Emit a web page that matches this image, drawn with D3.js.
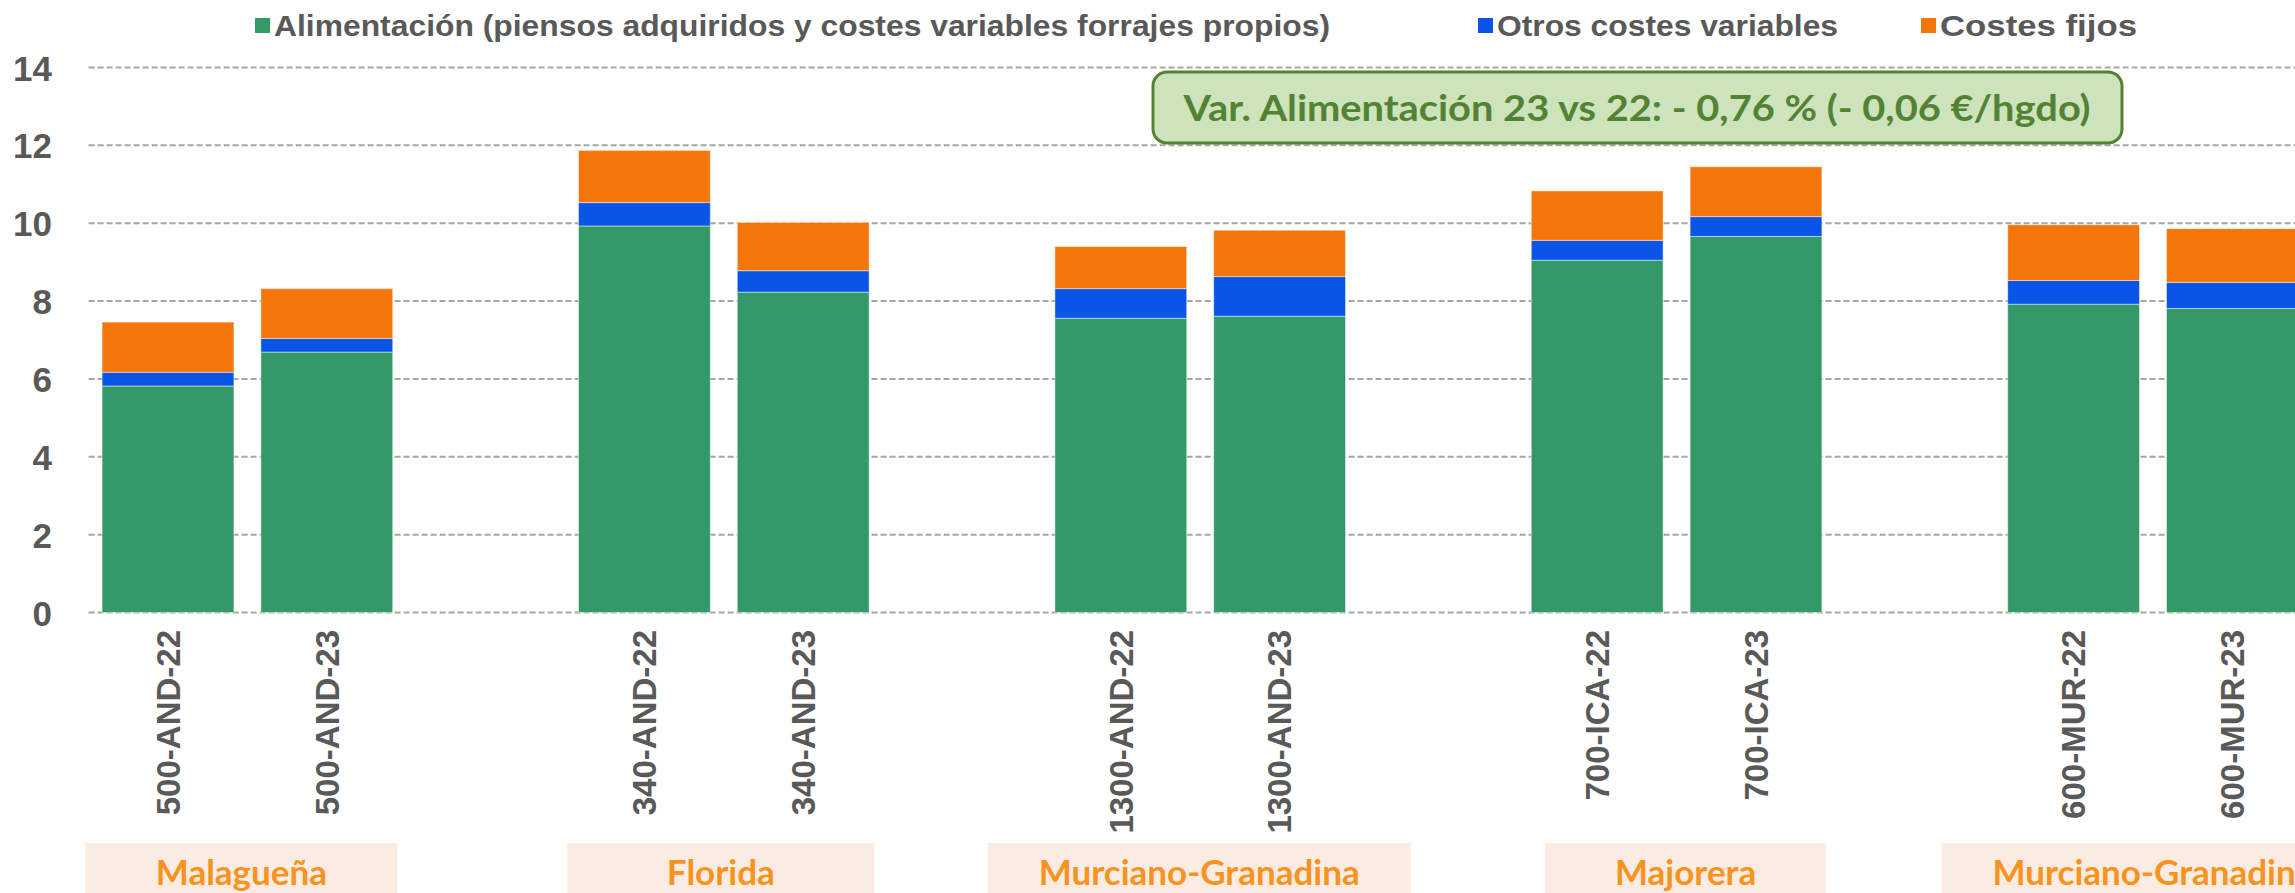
<!DOCTYPE html>
<html>
<head>
<meta charset="utf-8">
<script src="https://cdn.jsdelivr.net/npm/d3@7"></script>
<style>
  body { margin: 0; background: #fff; }
  svg { display: block; }
</style>
</head>
<body>
<svg id="chart"></svg>
<script>
// categories, with an empty slot between each pair (as in the Excel source)
const categories = ['500-AND-22', '500-AND-23', '', '340-AND-22', '340-AND-23', '',
  '1300-AND-22', '1300-AND-23', '', '700-ICA-22', '700-ICA-23', '', '600-MUR-22', '600-MUR-23'];
const alimentacion = [5.82, 6.69, null, 9.93, 8.23, null, 7.56, 7.61, null, 9.05, 9.66, null, 7.92, 7.81];
const otrosVariables = [0.35, 0.35, null, 0.60, 0.55, null, 0.76, 1.02, null, 0.51, 0.51, null, 0.61, 0.67];
const costesFijos = [1.29, 1.28, null, 1.34, 1.24, null, 1.08, 1.19, null, 1.27, 1.28, null, 1.43, 1.38];
const seriesNames = [
  'Alimentación (piensos adquiridos y costes variables forrajes propios)',
  'Otros costes variables',
  'Costes fijos',
];
const breeds = ['Malagueña', 'Florida', 'Murciano-Granadina', 'Majorera', 'Murciano-Granadina'];
const yTicks = [0, 2, 4, 6, 8, 10, 12, 14];
const note = 'Var. Alimentación 23 vs 22: - 0,76 % (- 0,06 €/hgdo)';

const width = 2295;
const height = 893;
const colors = ['#339966', '#0B55E6', '#F4760B'];
const grey = '#595959';

// layout tweaks for the legend and the breed boxes
const legendX = [255, 1478, 1921];
const legendLen = [1056, 341, 197];
const breedBoxW = [312, 307, 423, 281, 423];
const breedBoxDx = [-6, -3, -1, 9, 0];

const svg = d3.select('#chart')
  .attr('width', width)
  .attr('height', height)
  .attr('font-family', '"Liberation Sans", Arial, sans-serif');

const x = d3.scaleBand()
  .domain(d3.range(categories.length))
  .range([88.6, 88.6 + 158.8 * categories.length])
  .paddingInner(0.17)
  .paddingOuter(0.085);

const y = d3.scaleLinear()
  .domain([0, 14])
  .range([612.5, 67.5]);

// gridlines + y labels
svg.append('g')
  .selectAll('line')
  .data(yTicks)
  .join('line')
  .attr('x1', 88.6)
  .attr('x2', width)
  .attr('y1', d => y(d))
  .attr('y2', d => y(d))
  .attr('stroke', '#A6A6A6')
  .attr('stroke-width', 2)
  .attr('stroke-dasharray', '6,3');

const yAxis = d3.axisLeft(y).tickValues(yTicks).tickSize(0).tickPadding(0);
svg.append('g')
  .attr('transform', 'translate(52,0)')
  .call(yAxis)
  .call(g => g.select('.domain').remove())
  .call(g => g.selectAll('text')
    .attr('font-family', '"Liberation Sans", Arial, sans-serif')
    .attr('font-size', 35)
    .attr('font-weight', 'bold')
    .attr('fill', grey)
    .attr('dy', '0.36em'));

// stacked bars
const rows = categories.map((c, i) => ({
  i, label: c,
  a: alimentacion[i], o: otrosVariables[i], f: costesFijos[i],
})).filter(d => d.a != null);

const stack = d3.stack().keys(['a', 'o', 'f']);
const layers = stack(rows);

svg.append('g')
  .selectAll('g')
  .data(layers)
  .join('g')
  .attr('fill', (d, k) => colors[k])
  .selectAll('rect')
  .data(d => d)
  .join('rect')
  .attr('x', d => x(d.data.i))
  .attr('y', d => y(d[1]))
  .attr('width', x.bandwidth())
  .attr('height', d => y(d[0]) - y(d[1]))
  .attr('stroke', 'rgba(255,255,255,0.45)')
  .attr('stroke-width', 1);

// x labels (rotated)
svg.append('g')
  .selectAll('text')
  .data(categories.map((c, i) => ({ c, i })).filter(d => d.c))
  .join('text')
  .attr('transform', d => `translate(${x(d.i) + x.bandwidth() / 2},630) rotate(-90)`)
  .attr('text-anchor', 'end')
  .attr('dy', '0.36em')
  .attr('font-size', 33)
  .attr('font-weight', 'bold')
  .attr('fill', grey)
  .text(d => d.c);

// breed boxes
const breedG = svg.append('g')
  .selectAll('g')
  .data(breeds)
  .join('g')
  .attr('transform', (d, i) => {
    const cx = (x(3 * i) + x(3 * i + 1) + x.bandwidth()) / 2 + breedBoxDx[i];
    return `translate(${cx},0)`;
  });

breedG.append('rect')
  .attr('x', (d, i) => -breedBoxW[i] / 2)
  .attr('y', 843)
  .attr('width', (d, i) => breedBoxW[i])
  .attr('height', 60)
  .attr('fill', '#FBECE3');

breedG.append('text')
  .attr('text-anchor', 'middle')
  .attr('y', 885)
  .attr('font-family', 'Lato, "Open Sans", sans-serif')
  .attr('font-weight', 'bold')
  .attr('font-size', 35)
  .attr('fill', '#F7931E')
  .text(d => d);

// legend
const legend = svg.append('g')
  .selectAll('g')
  .data(seriesNames)
  .join('g')
  .attr('transform', (d, i) => `translate(${legendX[i]},0)`);

legend.append('rect')
  .attr('y', 18)
  .attr('width', 15)
  .attr('height', 15)
  .attr('fill', (d, i) => colors[i]);

legend.append('text')
  .attr('x', 19)
  .attr('y', 25)
  .attr('dy', '0.36em')
  .attr('font-size', 30)
  .attr('font-weight', 'bold')
  .attr('fill', grey)
  .attr('textLength', (d, i) => legendLen[i])
  .attr('lengthAdjust', 'spacingAndGlyphs')
  .text(d => d);

// annotation box
const noteG = svg.append('g');
noteG.append('rect')
  .attr('x', 1153)
  .attr('y', 72)
  .attr('width', 969)
  .attr('height', 71)
  .attr('rx', 14)
  .attr('fill', '#CCE3BB')
  .attr('stroke', '#548235')
  .attr('stroke-width', 3);

noteG.append('text')
  .attr('x', 1637)
  .attr('y', 108)
  .attr('dy', '0.36em')
  .attr('text-anchor', 'middle')
  .attr('font-family', 'Lato, "Open Sans", sans-serif')
  .attr('font-weight', 'bold')
  .attr('font-size', 37)
  .attr('fill', '#548235')
  .attr('textLength', 907)
  .attr('lengthAdjust', 'spacingAndGlyphs')
  .text(note);
</script>
</body>
</html>
